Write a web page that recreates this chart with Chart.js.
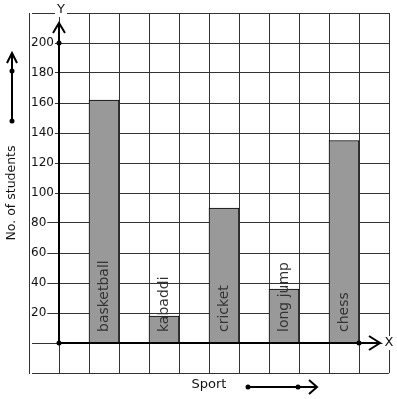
<!DOCTYPE html>
<html>
<head>
<meta charset="utf-8">
<script src="https://cdn.jsdelivr.net/npm/chart.js@4/dist/chart.umd.min.js"></script>
<style>
  body { margin: 0; background: #fff; }
  #wrap { position: relative; width: 397px; height: 399px; }
</style>
</head>
<body>
<div id="wrap"><canvas id="sportChart"></canvas></div>
<script>
var sports = ['basketball', 'kabaddi', 'cricket', 'long jump', 'chess'];
var students = [162, 18, 90, 36, 135];
var yTicks = [20, 40, 60, 80, 100, 120, 140, 160, 180, 200];

var FONT = '"DejaVu Sans", sans-serif';

function dot(ctx, x, y) {
    ctx.beginPath();
    ctx.arc(x, y, 2.5, 0, Math.PI * 2);
    ctx.fill();
}

function labelBox(ctx, text, x, y) {
    var w = ctx.measureText(text).width;
    ctx.fillStyle = '#fff';
    ctx.fillRect(x - w / 2 - 2, y - 7, w + 4, 14);
    ctx.fillStyle = '#111';
    ctx.fillText(text, x, y);
}

// axes, arrows and texts on top of the graph paper
var overlay = {
    id: 'overlay',
    afterDatasetsDraw: function(chart) {
        var ctx = chart.ctx;
        var xs = chart.scales.x, ys = chart.scales.y;
        var x0 = xs.getPixelForValue(0), y0 = ys.getPixelForValue(0);
        ctx.save();

        // bar labels
        ctx.font = '14px ' + FONT;
        ctx.fillStyle = '#333';
        ctx.textAlign = 'left';
        ctx.textBaseline = 'middle';
        chart.getDatasetMeta(0).data.forEach(function(bar, i) {
            ctx.save();
            ctx.translate(bar.x, y0 - 11);
            ctx.rotate(-Math.PI / 2);
            ctx.fillText(sports[i], 0, 0);
            ctx.restore();
        });

        // axes
        ctx.strokeStyle = '#000';
        ctx.fillStyle = '#000';
        ctx.lineWidth = 2;
        var yTip = ys.top + 10, xTip = xs.right - 9;
        ctx.beginPath();
        ctx.moveTo(x0, y0); ctx.lineTo(x0, yTip);
        ctx.moveTo(x0 - 6, yTip + 10); ctx.lineTo(x0, yTip); ctx.lineTo(x0 + 6, yTip + 10);
        ctx.moveTo(x0, y0); ctx.lineTo(xTip, y0);
        ctx.moveTo(xTip - 11, y0 - 7); ctx.lineTo(xTip, y0); ctx.lineTo(xTip - 11, y0 + 7);
        ctx.stroke();
        dot(ctx, x0, y0);
        dot(ctx, x0, ys.getPixelForValue(200));
        dot(ctx, xs.getPixelForValue(10), y0);

        ctx.font = '13px ' + FONT;
        ctx.textAlign = 'center';
        ctx.textBaseline = 'middle';
        labelBox(ctx, 'Y', x0 + 2, ys.top - 3);
        labelBox(ctx, 'X', xs.right, y0);

        // side arrow + title
        ctx.fillStyle = '#000';
        ctx.beginPath();
        ctx.moveTo(12, 121); ctx.lineTo(12, 53);
        ctx.moveTo(7, 63); ctx.lineTo(12, 53); ctx.lineTo(17, 63);
        ctx.stroke();
        dot(ctx, 12, 121);
        dot(ctx, 12, 71);

        ctx.fillStyle = '#111';
        ctx.font = '12.5px ' + FONT;
        ctx.save();
        ctx.translate(12, 193);
        ctx.rotate(-Math.PI / 2);
        ctx.fillText('No. of students', 0, 0);
        ctx.restore();

        // bottom title + arrow
        ctx.font = '13px ' + FONT;
        ctx.fillText('Sport', 209, 385);
        ctx.fillStyle = '#000';
        ctx.beginPath();
        ctx.moveTo(248, 387); ctx.lineTo(317, 387);
        ctx.moveTo(309, 380); ctx.lineTo(317, 387); ctx.lineTo(309, 394);
        ctx.stroke();
        dot(ctx, 248, 387);
        dot(ctx, 298, 387);

        ctx.restore();
    }
};

var ctxB = document.getElementById('sportChart').getContext('2d');
var sportChart = new Chart(ctxB, {
    type: 'bar',
    data: {
        datasets: [
            {
                data: students.map(function(v, i) { return { x: 1.5 + 2 * i, y: v }; }),
                backgroundColor: '#999999',
                borderColor: '#000',
                borderWidth: 1,
                categoryPercentage: 1,
                barPercentage: 1
            }
        ]
    },
    options: {
        responsive: true,
        maintainAspectRatio: false,
        animation: false,
        layout: { padding: { left: 29, right: 8, top: 13, bottom: 26 } },
        plugins: {
            legend: { display: false },
            tooltip: { enabled: false }
        },
        scales: {
            x: {
                type: 'linear',
                min: -1,
                max: 11,
                offset: false,
                ticks: { display: false, stepSize: 1, maxTicksLimit: 20 },
                grid: { color: '#333', drawTicks: false, offset: false },
                border: { display: false },
                afterFit: function(s) { s.height = 0; }
            },
            y: {
                min: -20,
                max: 220,
                ticks: {
                    stepSize: 20,
                    mirror: true,
                    padding: 2,
                    color: '#111',
                    font: { family: FONT, size: 12 },
                    showLabelBackdrop: true,
                    backdropColor: '#fff',
                    backdropPadding: { top: 1, bottom: 1, left: 1, right: 1 },
                    callback: function(v) { return yTicks.indexOf(v) >= 0 ? v : ''; }
                },
                grid: { color: '#333', drawTicks: false },
                border: { display: false },
                afterFit: function(s) { s.width = 0; }
            }
        }
    },
    plugins: [overlay]
});
</script>
</body>
</html>
